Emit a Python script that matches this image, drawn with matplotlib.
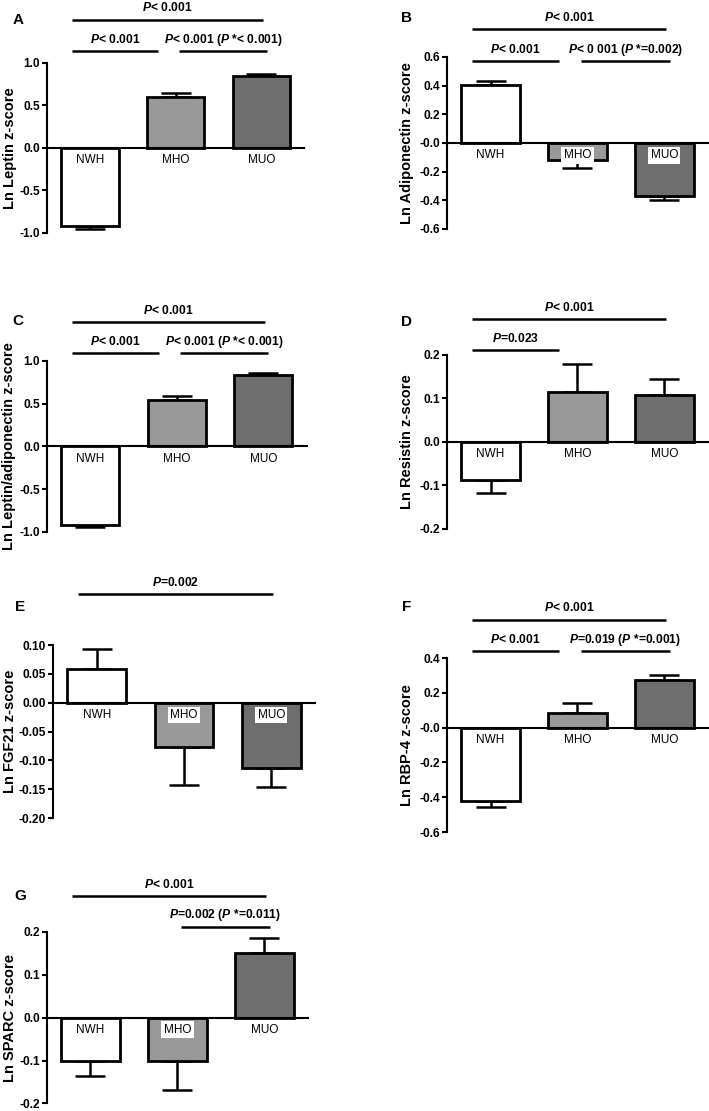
# -*- coding: utf-8 -*-

import numpy as np
import matplotlib
matplotlib.use('Agg')
import matplotlib.pyplot as plt

plt.rcParams['font.family'] = ['Liberation Sans', 'DejaVu Sans']
plt.rcParams['mathtext.fontset'] = 'custom'
plt.rcParams['mathtext.it'] = 'Liberation Sans:italic:bold'
plt.rcParams['mathtext.rm'] = 'Liberation Sans:bold'
plt.rcParams['mathtext.bf'] = 'Liberation Sans:bold'
plt.rcParams['axes.unicode_minus'] = False

groups = ['NWH', 'MHO', 'MUO']
bar_colors = ['white', '#999999', '#6e6e6e']

# mean z-scores and SE
leptin = [-0.922, 0.595, 0.842]
leptin_err = [0.03, 0.05, 0.025]
adiponectin = [0.403, -0.121, -0.372]
adiponectin_err = [0.03, 0.053, 0.028]
lep_adipo = [-0.922, 0.543, 0.834]
lep_adipo_err = [0.02, 0.045, 0.023]
resistin = [-0.087, 0.114, 0.108]
resistin_err = [0.031, 0.065, 0.036]
fgf21 = [0.058, -0.077, -0.114]
fgf21_err = [0.035, 0.066, 0.033]
rbp4 = [-0.422, 0.083, 0.275]
rbp4_err = [0.033, 0.057, 0.028]
sparc = [-0.102, -0.102, 0.150]
sparc_err = [0.034, 0.066, 0.035]

ticks_1 = [-1.0, -0.5, 0.0, 0.5, 1.0]
ticklabels_1 = ['-1.0', '-0.5', '0.0', '0.5', '1.0']
ticks_06 = [-0.6, -0.4, -0.2, 0.0, 0.2, 0.4, 0.6]
ticklabels_06 = ['-0.6', '-0.4', '-0.2', '-0.0', '0.2', '0.4', '0.6']
ticks_02 = [-0.2, -0.1, 0.0, 0.1, 0.2]
ticklabels_02 = ['-0.2', '-0.1', '0.0', '0.1', '0.2']
ticks_fgf = [-0.20, -0.15, -0.10, -0.05, 0.00, 0.05, 0.10]
ticklabels_fgf = ['-0.20', '-0.15', '-0.10', '-0.05', '0.00', '0.05', '0.10']
ticks_rbp = [-0.6, -0.4, -0.2, 0.0, 0.2, 0.4]
ticklabels_rbp = ['-0.6', '-0.4', '-0.2', '-0.0', '0.2', '0.4']

p_lt = '$P$< 0.001'

# bracket x extents for each pair of groups
pair_x = {(0, 1): (-0.21, 0.79), (1, 2): (1.04, 2.06), (0, 2): (-0.21, 2.02)}


def draw_panel(fig, rect, letter, letter_xy, values, errs, ylabel, label_x,
               ticks, ticklabels, brackets):
    ax = fig.add_axes(rect)
    x = np.arange(len(groups))
    ax.bar(x, values, width=0.67, color=bar_colors, edgecolor='black',
           linewidth=2.0, zorder=2)
    # one sided error bars, away from zero
    for i in range(len(values)):
        if values[i] >= 0:
            yerr = [[0], [errs[i]]]
        else:
            yerr = [[errs[i]], [0]]
        ax.errorbar(x[i], values[i], yerr=yerr, fmt='none', ecolor='black',
                    elinewidth=1.8, capsize=11, capthick=1.8, zorder=1)
    ax.set_xlim(-0.5, 2.5)
    ax.set_ylim(ticks[0], ticks[-1])
    ax.set_yticks(ticks)
    ax.set_yticklabels(ticklabels, fontsize=8.6, fontweight='bold')
    ax.tick_params(axis='y', direction='out', length=3.5, width=1.5, pad=1.5)
    ax.set_xticks([])
    ax.spines['top'].set_visible(False)
    ax.spines['right'].set_visible(False)
    ax.spines['bottom'].set_position(('data', 0))
    ax.spines['bottom'].set_linewidth(1.5)
    ax.spines['left'].set_linewidth(1.5)
    ax.patch.set_alpha(0)
    ax.set_ylabel(ylabel, fontsize=10.5, fontweight='bold', va='center')
    ax.yaxis.set_label_coords(label_x, 0.5)

    for i, g in enumerate(groups):
        ax.annotate(g, xy=(x[i], 0), xytext=(0, -8.8), textcoords='offset points',
                    ha='center', va='center', fontsize=8.5, zorder=5,
                    bbox=dict(boxstyle='square,pad=0.2', fc='white', ec='none'))

    for pair, level, text in brackets:
        x0, x1 = pair_x[pair]
        ax.plot([x0, x1], [level, level], color='black', lw=1.8,
                clip_on=False, solid_capstyle='butt')
        ax.annotate(text, xy=((x0 + x1) / 2, level), xytext=(0, 6),
                    textcoords='offset points', ha='center', va='baseline',
                    fontsize=8.7, fontweight='bold', annotation_clip=False)

    fig.text(letter_xy[0] / 709, 1 - letter_xy[1] / 1111, letter,
             fontsize=11, fontweight='bold', ha='center', va='center')
    return ax


fig = plt.figure(figsize=(7.09, 11.11), dpi=100)

draw_panel(fig, [0.0663, 0.7903, 0.363, 0.153], 'A', (18, 20),
           leptin, leptin_err, 'Ln Leptin z-score', -0.145,
           ticks_1, ticklabels_1,
           [((0, 1), 1.14, p_lt),
            ((1, 2), 1.14, '$P$< 0.001 ($P$ *< 0.001)'),
            ((0, 2), 1.51, p_lt)])

draw_panel(fig, [0.6305, 0.7939, 0.368, 0.1548], 'B', (407, 18),
           adiponectin, adiponectin_err, 'Ln Adiponectin z-score', -0.153,
           ticks_06, ticklabels_06,
           [((0, 1), 0.572, p_lt),
            ((1, 2), 0.572, '$P$< 0 001 ($P$ *=0.002)'),
            ((0, 2), 0.795, p_lt)])

draw_panel(fig, [0.0663, 0.5212, 0.366, 0.1539], 'C', (18, 321),
           lep_adipo, lep_adipo_err, 'Ln Leptin/adiponectin z-score', -0.145,
           ticks_1, ticklabels_1,
           [((0, 1), 1.094, p_lt),
            ((1, 2), 1.094, '$P$< 0.001 ($P$ *< 0.001)'),
            ((0, 2), 1.456, p_lt)])

draw_panel(fig, [0.6305, 0.5239, 0.368, 0.1566], 'D', (407, 322),
           resistin, resistin_err, 'Ln Resistin z-score', -0.153,
           ticks_02, ticklabels_02,
           [((0, 1), 0.2115, '$P$=0.023'),
            ((0, 2), 0.283, p_lt)])

draw_panel(fig, [0.0748, 0.2637, 0.3695, 0.1557], 'E', (20, 607),
           fgf21, fgf21_err, 'Ln FGF21 z-score', -0.164,
           ticks_fgf, ticklabels_fgf,
           [((0, 2), 0.188, '$P$=0.002')])

draw_panel(fig, [0.6305, 0.2511, 0.368, 0.1566], 'F', (407, 607),
           rbp4, rbp4_err, 'Ln RBP-4 z-score', -0.153,
           ticks_rbp, ticklabels_rbp,
           [((0, 1), 0.44, p_lt),
            ((1, 2), 0.44, '$P$=0.019 ($P$ *=0.001)'),
            ((0, 2), 0.62, p_lt)])

draw_panel(fig, [0.0663, 0.0068, 0.368, 0.1545], 'G', (20, 896),
           sparc, sparc_err, 'Ln SPARC z-score', -0.142,
           ticks_02, ticklabels_02,
           [((1, 2), 0.2116, '$P$=0.002 ($P$ *=0.011)'),
            ((0, 2), 0.283, p_lt)])

fig.savefig('out.png', dpi=100)
